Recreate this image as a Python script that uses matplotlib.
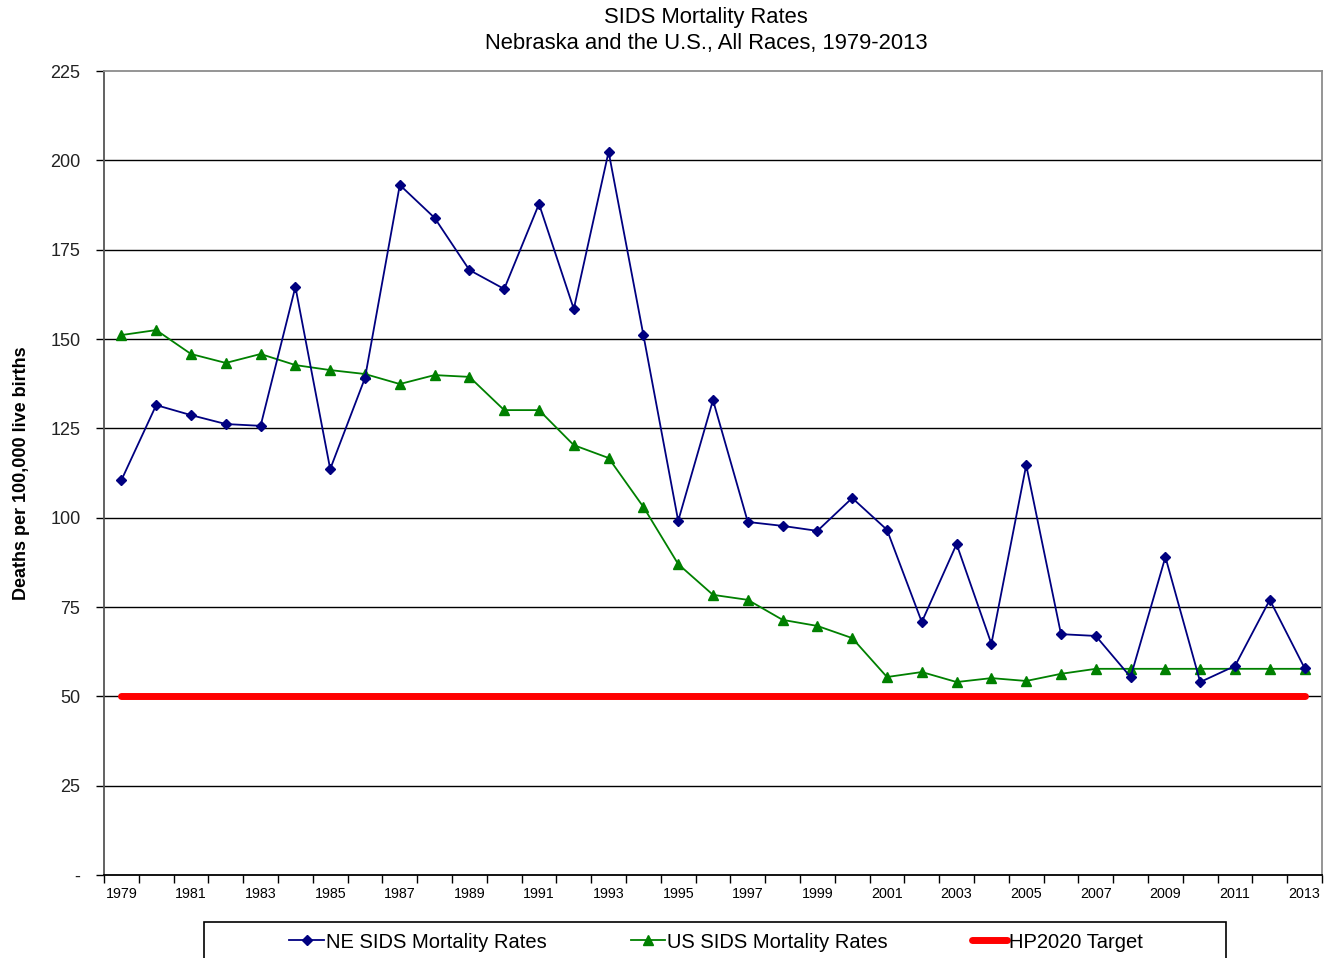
import numpy as np
import matplotlib.pyplot as plt
from matplotlib.patches import Rectangle

plt.rcParams['font.family'] = ['Liberation Sans', 'DejaVu Sans']

years = list(range(1979, 2014))
ne_rates = [110.5, 131.5, 128.7, 126.2, 125.7, 164.6, 113.6, 139.1, 193.1, 183.9,
            169.3, 164.0, 187.8, 158.4, 202.4, 151.1, 99.1, 132.9, 98.8, 97.7,
            96.3, 105.5, 96.6, 70.8, 92.6, 64.7, 114.7, 67.4, 66.9, 55.4,
            89.0, 54.0, 58.5, 77.0, 57.9]
us_rates = [151.1, 152.5, 145.8, 143.3, 145.8, 142.7, 141.3, 140.2, 137.4, 139.9,
            139.4, 130.1, 130.1, 120.3, 116.7, 103.0, 87.0, 78.4, 77.0, 71.4,
            69.7, 66.3, 55.4, 56.8, 54.0, 55.1, 54.3, 56.3, 57.7, 57.7,
            57.7, 57.7, 57.7, 57.7, 57.7]
hp_target = [50] * len(years)
y_ticks = [0, 25, 50, 75, 100, 125, 150, 175, 200, 225]
y_tick_labels = ['-', '25', '50', '75', '100', '125', '150', '175', '200', '225']

fig = plt.figure(figsize=(13.25, 9.58), dpi=100)
ax = fig.add_axes([104 / 1325, 1 - 875 / 958, (1322 - 104) / 1325, (875 - 71) / 958])

x = np.arange(len(years))

for yv in y_ticks[1:-1]:
    ax.axhline(yv, color='black', lw=1.0, zorder=1)

ax.plot(x, hp_target, color='#ff0000', lw=5, solid_capstyle='round', zorder=2,
        label='HP2020 Target')
ax.plot(x, us_rates, color='#008000', lw=1.3, marker='^', ms=7, zorder=3,
        label='US SIDS Mortality Rates')
ax.plot(x, ne_rates, color='#000080', lw=1.3, marker='D', ms=5, zorder=4,
        label='NE SIDS Mortality Rates')

ax.set_xlim(-0.5, len(years) - 0.5)
ax.set_ylim(0, 225)
ax.set_yticks(y_ticks)
ax.set_yticklabels(y_tick_labels, fontsize=13, color='#222222')
ax.tick_params(axis='y', length=6, width=1, color='black', pad=11)

ax.set_xticks(np.arange(-0.5, len(years)), minor=False)
ax.set_xticklabels([])
ax.tick_params(axis='x', which='major', length=6, width=1, color='black')
ax.set_xticks(x[::2], minor=True)
ax.set_xticklabels([str(y) for y in years[::2]], minor=True, fontsize=10.3)
ax.tick_params(axis='x', which='minor', length=0, pad=9)

for s in ['top', 'right']:
    ax.spines[s].set_color('#8c8c8c')
    ax.spines[s].set_linewidth(1.3)
ax.spines['left'].set_color('#555555')
ax.spines['left'].set_linewidth(1.3)
ax.spines['bottom'].set_color('black')
ax.spines['bottom'].set_linewidth(1.3)

ax.set_ylabel('Deaths per 100,000 live births', fontsize=13, fontweight='bold')
ax.yaxis.set_label_coords(-74 / 1218, 0.5)

fig.text(706 / 1325, 1 - 18 / 958, 'SIDS Mortality Rates', ha='center', va='center',
         fontsize=15.8)
fig.text(706 / 1325, 1 - 43 / 958, 'Nebraska and the U.S., All Races, 1979-2013',
         ha='center', va='center', fontsize=15.8)

# legend box, bottom cut off like in the original
fig.patches.append(Rectangle((204 / 1325, -0.02), (1226 - 204) / 1325, (958 - 922) / 958 + 0.02,
                             transform=fig.transFigure, fill=False, ec='black', lw=1.2))
handles, labels = ax.get_legend_handles_labels()
order = [2, 1, 0]
fig.legend([handles[i] for i in order], [labels[i] for i in order],
           loc='center', bbox_to_anchor=(716 / 1325, 1 - 942 / 958), ncol=3,
           frameon=False, fontsize=14.5, handlelength=1.7, handletextpad=0.1,
           columnspacing=4.2)

plt.savefig('out.png', dpi=100)
